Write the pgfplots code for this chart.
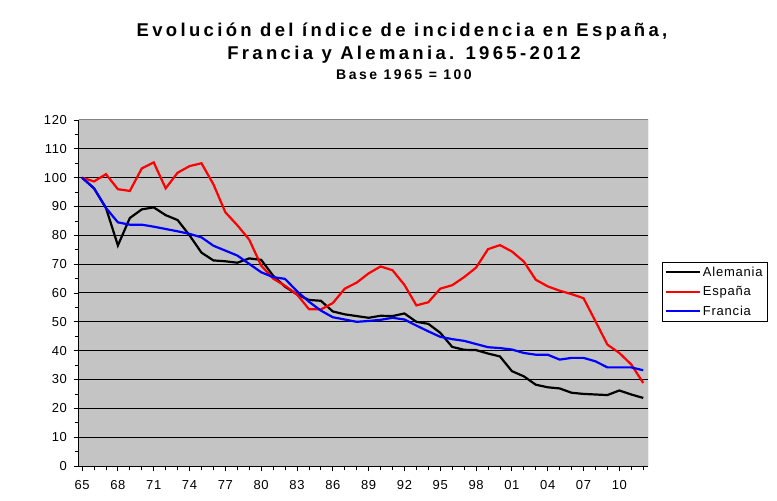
\documentclass[border=0pt]{standalone}
\usepackage{fontspec}
\setmainfont{Liberation Sans}
\usepackage{pgfplots}
\usepackage{pgfplotstable}
\pgfplotsset{compat=1.18}
\definecolor{plotbg}{RGB}{196,196,196}
\definecolor{framegray}{RGB}{130,130,130}

\pgfplotstableread{
year ale esp fra
1965 100 100 100
1966 96.3 98.7 96.3
1967 89.5 101.2 89.5
1968 76.5 96 84.5
1969 86 95.4 83.7
1970 89 103.2 83.7
1971 89.7 105.3 83
1972 87 96.3 82.2
1973 85.3 101.7 81.4
1974 80 104 80.5
1975 74 105 79.3
1976 71.3 97.7 76.4
1977 71 88 74.7
1978 70.5 83.5 73
1979 72 78.5 70.1
1980 71.5 69.5 67.2
1981 66 65 65.5
1982 62.2 62.5 64.9
1983 59.5 59.5 60.6
1984 57.6 54.4 57
1985 57.3 54.3 53.9
1986 53.6 56.5 51.6
1987 52.6 61.5 50.8
1988 52 63.6 50
1989 51.4 66.8 50.3
1990 52.1 69.2 50.7
1991 52 67.9 51.4
1992 52.9 62.8 50.8
1993 50 55.7 48.7
1994 49.3 56.8 46.7
1995 46.2 61.5 44.8
1996 41.3 62.7 44
1997 40.3 65.5 43.4
1998 40.2 68.8 42.3
1999 39 75.2 41.2
2000 38 76.6 40.9
2001 32.9 74.4 40.4
2002 31.1 70.9 39.2
2003 28.2 64.6 38.6
2004 27.3 62.3 38.6
2005 26.9 60.8 36.9
2006 25.4 59.6 37.5
2007 25 58.2 37.5
2008 24.8 50.2 36.3
2009 24.6 42.1 34.2
2010 26.2 39.2 34.2
2011 24.8 35.2 34.2
2012 23.6 28.8 33.2
}\datatable

\begin{document}
\begin{tikzpicture}[x=1pt,y=1pt]
\path[use as bounding box] (0,0) rectangle (777,501);
\begin{axis}[
  at={(78.5pt,35pt)}, anchor=south west,
  scale only axis, width=569.5pt, height=346pt,
  xmin=1964.7, xmax=2012.4, ymin=0, ymax=120,
  axis background/.style={fill=plotbg},
  axis x line*=bottom, axis y line*=left,
  axis line style={black, line width=1pt},
  ytick={0,10,...,120}, minor ytick={5,15,...,115},
  ymajorgrids, major grid style={black, line width=1pt},
  xtick={1965,1968,...,2010},
  xticklabels={65,68,71,74,77,80,83,86,89,92,95,98,01,04,07,10},
  minor xtick={1966,1967,...,2012},
  tick align=outside, major tick length=5pt, minor tick length=4pt,
  tick style={black, line width=0.8pt},
  /pgf/number format/assume math mode=true,
  ticklabel style={font=\fontsize{13}{15}\selectfont\addfontfeatures{LetterSpace=5}},
  xticklabel style={yshift=-6pt},
  yticklabel style={xshift=-3pt},
  legend style={at={(1.0246,0.5896)}, anchor=north west, draw=black, line width=0.8pt,
    fill=white, font=\fontsize{13}{15}\selectfont\addfontfeatures{LetterSpace=6}, row sep=4.5pt, inner sep=2.5pt,
    legend cell align=left},
  legend image code/.code={\draw[#1, line width=2pt] (0pt,0pt) -- (34pt,0pt);},
]
\addplot[black, line width=2.2pt] table[x=year, y=ale] {\datatable};
\addlegendentry{Alemania}
\addplot[red, line width=2.2pt] table[x=year, y=esp] {\datatable};
\addlegendentry{España}
\addplot[blue, line width=2.2pt] table[x=year, y=fra] {\datatable};
\addlegendentry{Francia}
\draw[framegray, line width=1pt] (rel axis cs:0,1) -- (rel axis cs:1,1) -- (rel axis cs:1,0);
\end{axis}
\node[font=\bfseries\fontsize{18.5}{20}\selectfont\addfontfeatures{LetterSpace=18}] at (402,469) {Evolución del índice de incidencia en España,};
\node[font=\bfseries\fontsize{18.5}{20}\selectfont\addfontfeatures{LetterSpace=18}] at (404,446) {Francia y Alemania. 1965-2012};
\node[font=\bfseries\fontsize{14}{15}\selectfont\addfontfeatures{LetterSpace=18}] at (404,426) {Base 1965 = 100};
\end{tikzpicture}
\end{document}
